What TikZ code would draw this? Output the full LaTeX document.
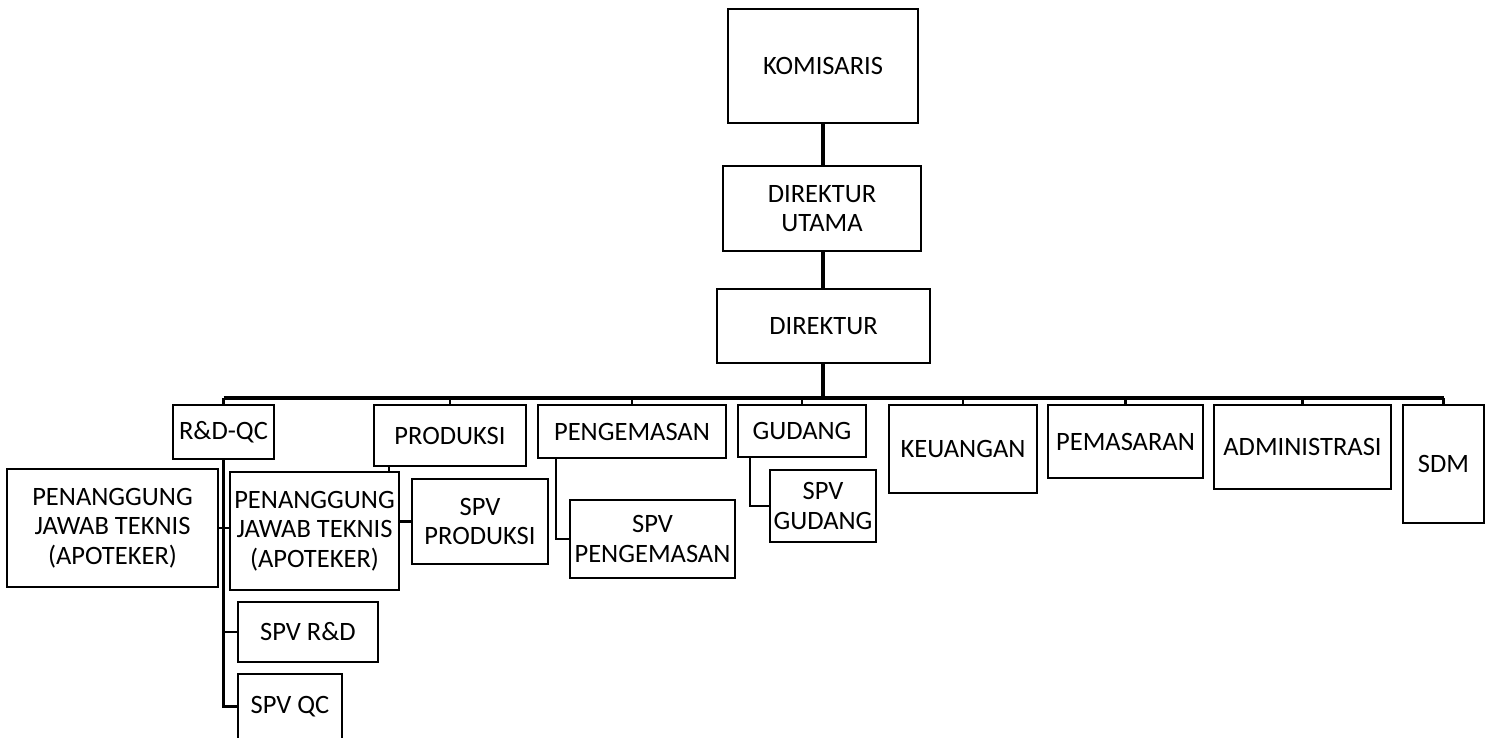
\documentclass[tikz,border=0pt]{standalone}
\usepackage{fontspec}
\setmainfont{Carlito}
\begin{document}
\begin{tikzpicture}[x=1pt,y=-1pt,
  box/.style={draw=black,line width=2.6pt,fill=white,rectangle,inner sep=0pt,align=center,
    font=\fontsize{26.5}{29.5}\selectfont},
  main/.style={line width=3.5pt},
  thin/.style={line width=2.3pt}]
\useasboundingbox[fill=white] (0,0) rectangle (1491,737);
% top chain
\node[box,minimum width=190pt,minimum height=114pt] (KOM) at (823,66) {KOMISARIS};
\node[box,minimum width=198pt,minimum height=85pt] (DU) at (822,208.5) {DIREKTUR\\UTAMA};
\node[box,minimum width=213pt,minimum height=74pt] (DIR) at (823.5,326) {DIREKTUR};
% departments
\node[box,minimum width=101pt,minimum height=54pt] (RDQC) at (223.5,432) {R\&D-QC};
\node[box,minimum width=152pt,minimum height=61pt] (PROD) at (450,435.5) {PRODUKSI};
\node[box,minimum width=188pt,minimum height=53pt] (PENG) at (632,431.5) {PENGEMASAN};
\node[box,minimum width=128pt,minimum height=52pt] (GUD) at (802,431) {GUDANG};
\node[box,minimum width=148pt,minimum height=88pt] (KEU) at (963,449) {KEUANGAN};
\node[box,minimum width=155pt,minimum height=73pt] (PEM) at (1125.5,441.5) {PEMASARAN};
\node[box,minimum width=177pt,minimum height=84pt] (ADM) at (1302.5,447) {ADMINISTRASI};
\node[box,minimum width=81pt,minimum height=118pt] (SDM) at (1443.5,464) {SDM};
% sub units
\node[box,minimum width=211pt,minimum height=118pt] (PJT1) at (112.5,528) {PENANGGUNG\\JAWAB TEKNIS\\(APOTEKER)};
\node[box,minimum width=169pt,minimum height=118pt] (PJT2) at (314.5,531) {PENANGGUNG\\JAWAB TEKNIS\\(APOTEKER)};
\node[box,minimum width=140pt,minimum height=60pt] (SPVRD) at (308,632) {SPV R\&D};
\node[box,minimum width=104pt,minimum height=65pt] (SPVQC) at (290,706.5) {SPV QC};
\node[box,minimum width=136pt,minimum height=85pt] (SPVPROD) at (480,521.5) {SPV\\PRODUKSI};
\node[box,minimum width=165pt,minimum height=78pt] (SPVPENG) at (652.5,539) {SPV\\PENGEMASAN};
\node[box,minimum width=106pt,minimum height=72pt] (SPVGUD) at (823,506) {SPV\\GUDANG};
% connectors top
\coordinate (bus) at (823,398);
\draw[main] (KOM.south) -- (DU.north -| KOM.south);
\draw[main] (DU.south -| KOM.south) -- (DIR.north -| KOM.south);
\draw[main] (DIR.south -| KOM.south) -- (bus);
\draw[main] (RDQC.north |- bus) -- (SDM.north |- bus);
\foreach \n in {RDQC,PROD,PENG,GUD,KEU,PEM,ADM,SDM}
  \draw[thin] (\n.north) -- (\n.north |- bus);
% R&D-QC branch
\draw[thin] (RDQC.south) |- (SPVQC.west);
\draw[thin] (PJT1.east) -- (PJT2.west |- PJT1.east);
\draw[thin] (SPVRD.west) -- (SPVRD.west -| RDQC.south);
% produksi branch
\draw[thin] ([xshift=16pt]PROD.south west) -- ([xshift=16pt]PROD.south west |- PJT2.north);
\draw[thin] (PJT2.east |- SPVPROD.west) -- (SPVPROD.west);
% pengemasan, gudang
\draw[thin] ([xshift=19pt]PENG.south west) |- (SPVPENG.west);
\draw[thin] ([xshift=13pt]GUD.south west) |- (SPVGUD.west);
\end{tikzpicture}
\end{document}
